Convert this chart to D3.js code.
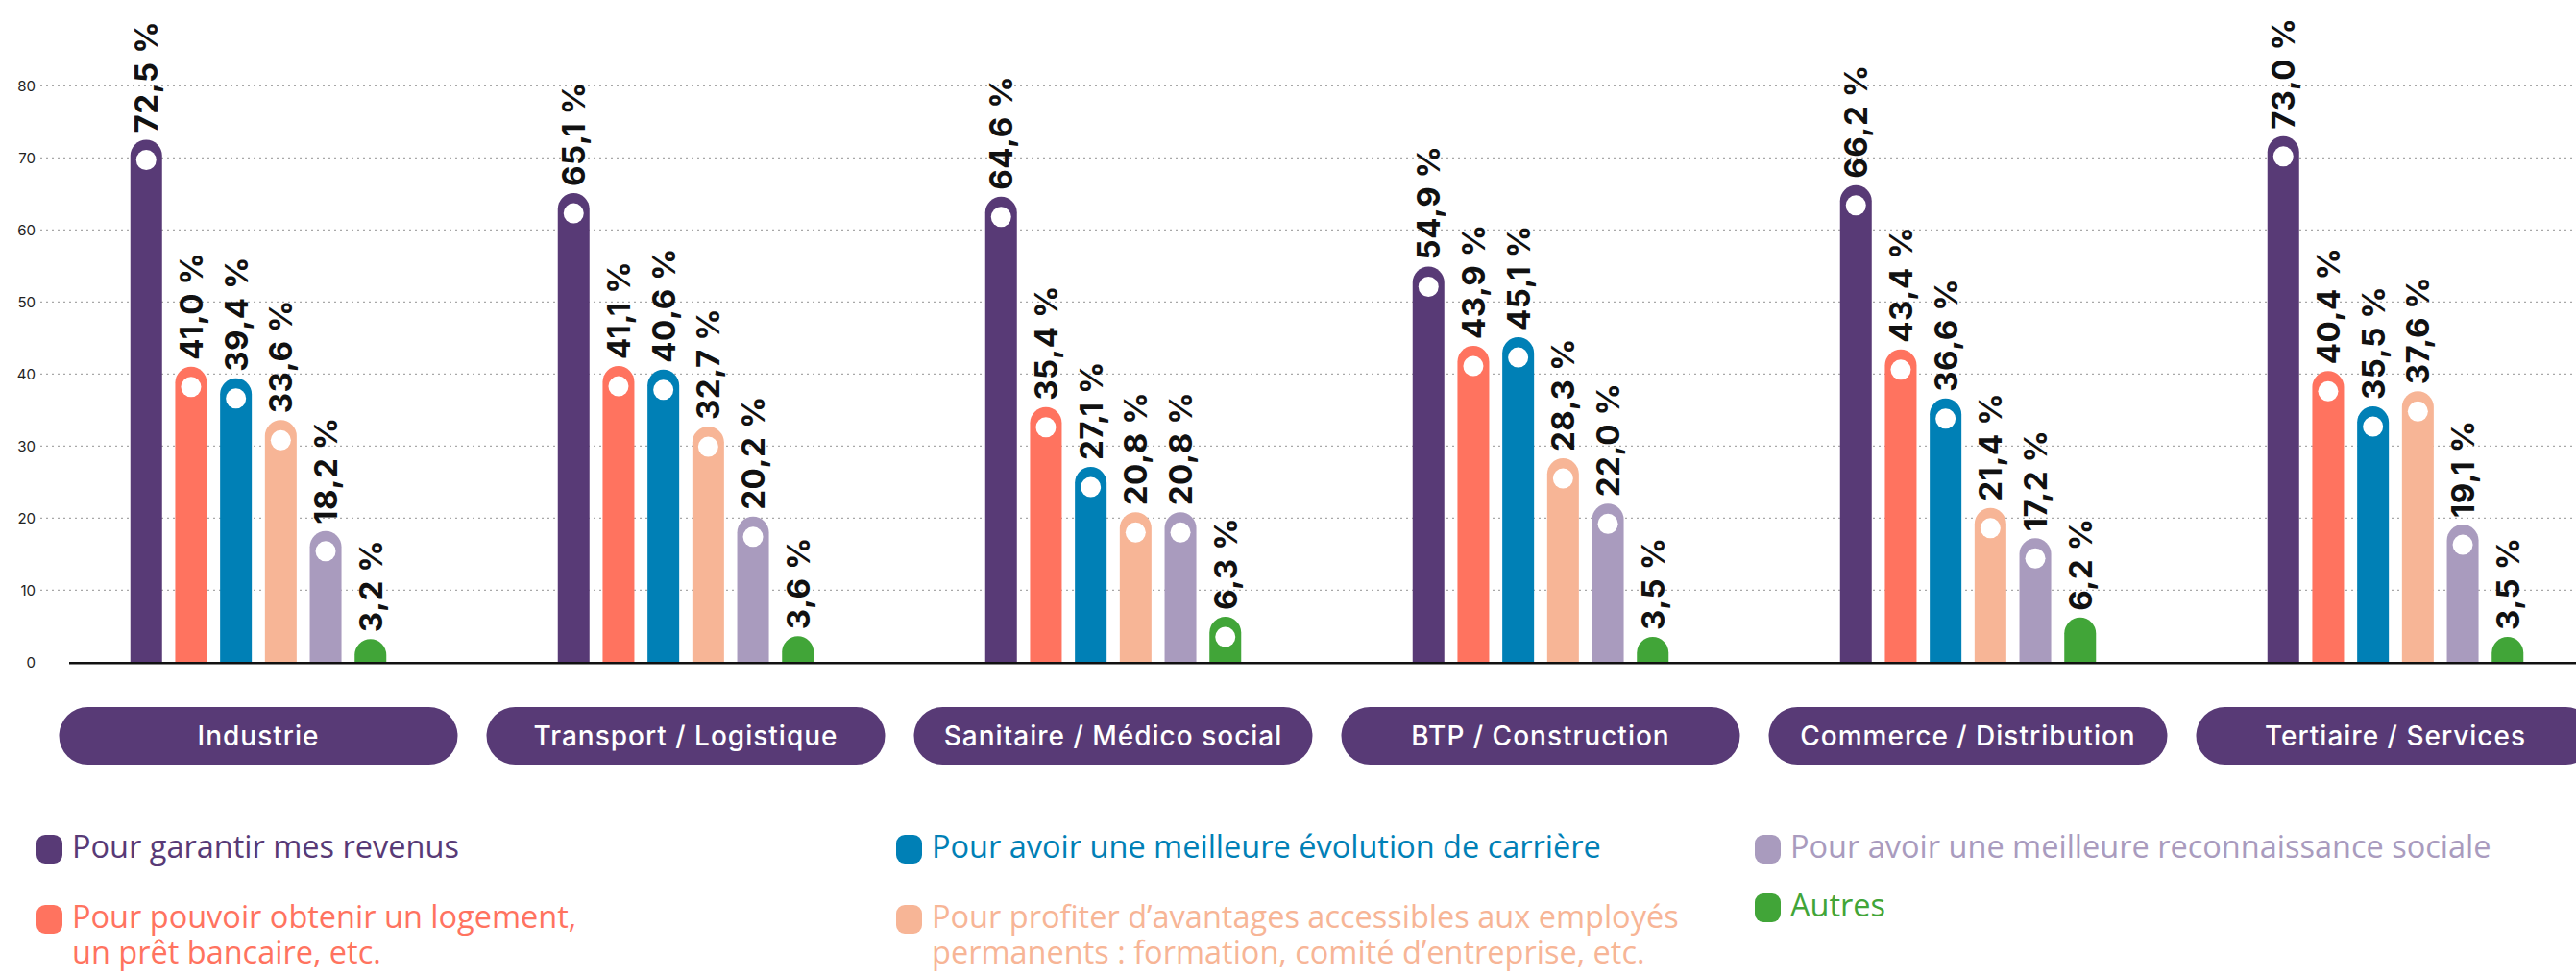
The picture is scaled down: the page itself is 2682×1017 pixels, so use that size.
<!DOCTYPE html>
<html lang="fr">
<head>
<meta charset="utf-8">
<title>Motivations par secteur</title>
<script src="https://cdn.jsdelivr.net/npm/d3@7"></script>
<style>
  html, body { margin: 0; padding: 0; background: #fff; }
  svg { display: block; }
</style>
</head>
<body>
<div id="chart"></div>
<script>
const CATEGORIES = [
  'Industrie', 'Transport / Logistique', 'Sanitaire / Médico social',
  'BTP / Construction', 'Commerce / Distribution', 'Tertiaire / Services'
];

const SERIES = [
  'Pour garantir mes revenus',
  'Pour pouvoir obtenir un logement,\nun prêt bancaire, etc.',
  'Pour avoir une meilleure évolution de carrière',
  'Pour profiter d’avantages accessibles aux employés\npermanents : formation, comité d’entreprise, etc.',
  'Pour avoir une meilleure reconnaissance sociale',
  'Autres'
];

const REVENUS        = [72.5, 65.1, 64.6, 54.9, 66.2, 73.0];
const LOGEMENT       = [41.0, 41.1, 35.4, 43.9, 43.4, 40.4];
const CARRIERE       = [39.4, 40.6, 27.1, 45.1, 36.6, 35.5];
const AVANTAGES      = [33.6, 32.7, 20.8, 28.3, 21.4, 37.6];
const RECONNAISSANCE = [18.2, 20.2, 20.8, 22.0, 17.2, 19.1];
const AUTRES         = [3.2, 3.6, 6.3, 3.5, 6.2, 3.5];

const Y_TICKS = [0, 10, 20, 30, 40, 50, 60, 70, 80];

const VALUES = [REVENUS, LOGEMENT, CARRIERE, AVANTAGES, RECONNAISSANCE, AUTRES];
const COLORS = ['#583a76', '#ff735f', '#0080b6', '#f7b596', '#a99bbe', '#41a538'];

const W = 2682, H = 1017;

const svg = d3.select('#chart').append('svg')
  .attr('width', W).attr('height', H)
  .attr('viewBox', `0 0 ${W} ${H}`);

// échelles
const y = d3.scaleLinear().domain([0, 80]).range([689.3, 89.3]);

const x0 = d3.scaleBand()
  .domain(CATEGORIES)
  .range([46.5, 46.5 + 445 * CATEGORIES.length])
  .paddingInner(0).paddingOuter(0);

const x1 = d3.scaleBand()
  .domain(d3.range(SERIES.length))
  .range([0, 266.5])
  .paddingInner(0.293).paddingOuter(0);

const groupLeft = c => x0(c) + x0.bandwidth() / 2 - 266.5 / 2;

// grille pointillée + graduations
svg.append('g').selectAll('line')
  .data(Y_TICKS.filter(t => t > 0))
  .join('line')
  .attr('x1', 42).attr('x2', W)
  .attr('y1', d => y(d)).attr('y2', d => y(d))
  .attr('stroke', '#a8a8a8')
  .attr('stroke-width', 1.2)
  .attr('stroke-dasharray', '2 4');

svg.append('g').selectAll('text')
  .data(Y_TICKS)
  .join('text')
  .attr('x', 37).attr('y', d => y(d))
  .attr('dy', '0.36em')
  .attr('text-anchor', 'end')
  .attr('font-family', 'Inter, sans-serif')
  .attr('font-size', 15)
  .attr('fill', '#222')
  .text(d => d);

// barres
const rows = [];
CATEGORIES.forEach((c, ci) => {
  VALUES.forEach((vals, si) => rows.push({ cat: c, s: si, value: vals[ci] }));
});

const bw = x1.bandwidth();
const r = bw / 2;

function barPath(d) {
  const x = groupLeft(d.cat) + x1(d.s);
  const top = y(d.value), base = y(0);
  return `M${x},${base} L${x},${top + r} A${r},${r} 0 0 1 ${x + bw},${top + r} L${x + bw},${base} Z`;
}

const bars = svg.append('g');
bars.selectAll('path')
  .data(rows)
  .join('path')
  .attr('d', barPath)
  .attr('fill', d => COLORS[d.s]);

bars.selectAll('circle')
  .data(rows.filter(d => d.value > 6.25))
  .join('circle')
  .attr('cx', d => groupLeft(d.cat) + x1(d.s) + r)
  .attr('cy', d => y(d.value) + 21)
  .attr('r', 10.5)
  .attr('fill', '#fff');

// étiquettes verticales
const fmt = v => v.toFixed(1).replace('.', ',') + ' %';
svg.append('g').selectAll('text')
  .data(rows)
  .join('text')
  .attr('transform', d => `translate(${groupLeft(d.cat) + x1(d.s) + r},${y(d.value) - 7}) rotate(-90)`)
  .attr('dy', '0.36em')
  .attr('font-family', 'Inter, sans-serif')
  .attr('font-weight', 700)
  .attr('font-size', 33)
  .attr('letter-spacing', 0.6)
  .attr('fill', '#111')
  .text(d => fmt(d.value));

// ligne de base
svg.append('line')
  .attr('x1', 72).attr('x2', W)
  .attr('y1', y(0) + 1).attr('y2', y(0) + 1)
  .attr('stroke', '#111').attr('stroke-width', 2.4);

// pastilles catégories
const pills = svg.append('g').selectAll('g')
  .data(CATEGORIES)
  .join('g')
  .attr('transform', d => `translate(${x0(d) + x0.bandwidth() / 2},766)`);

pills.append('rect')
  .attr('x', -207.5).attr('y', -30)
  .attr('width', 415).attr('height', 60)
  .attr('rx', 30)
  .attr('fill', COLORS[0]);

pills.append('text')
  .attr('text-anchor', 'middle')
  .attr('dy', '0.36em')
  .attr('font-family', 'Inter, sans-serif')
  .attr('font-weight', 500)
  .attr('font-size', 28)
  .attr('letter-spacing', 1)
  .attr('fill', '#fff')
  .text(d => d);

// légende
const LEG_POS = [
  [38, 893], [38, 966], [933, 893], [933, 966], [1827, 893], [1827, 954]
];

const legend = svg.append('g').selectAll('g')
  .data(SERIES)
  .join('g')
  .attr('transform', (d, i) => `translate(${LEG_POS[i][0]},${LEG_POS[i][1]})`);

legend.append('rect')
  .attr('x', 0).attr('y', -24)
  .attr('width', 27).attr('height', 30)
  .attr('rx', 9)
  .attr('fill', (d, i) => COLORS[i]);

// une ligne de texte par élément pour éviter le chevauchement des boîtes
legend.each(function(d) {
  const g = d3.select(this);
  const i = SERIES.indexOf(d);
  d.split('\n').forEach((line, k) => {
    g.append('text')
      .attr('x', 37)
      .attr('y', k * 37)
      .attr('font-family', '"Open Sans", sans-serif')
      .attr('font-weight', 500)
      .attr('font-size', 32.5)
      .attr('fill', COLORS[i])
      .text(line);
  });
});
</script>
</body>
</html>
